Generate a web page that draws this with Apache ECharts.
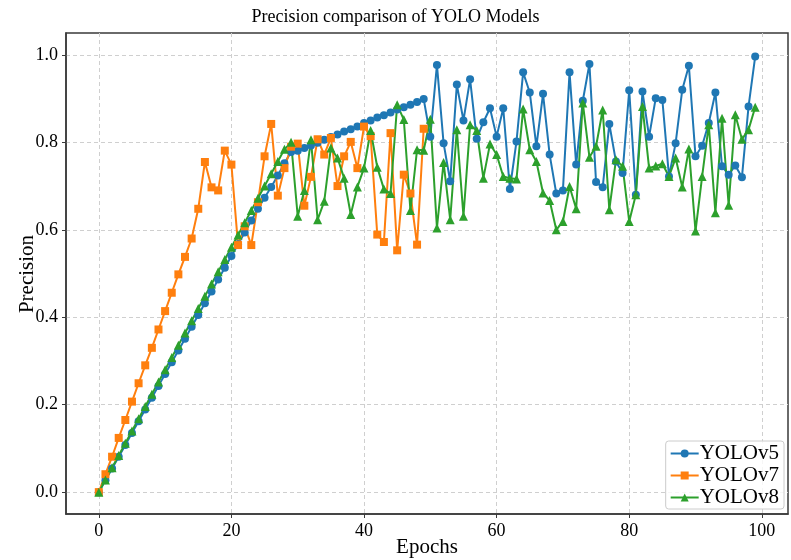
<!DOCTYPE html>
<html>
<head>
<meta charset="utf-8">
<script src="https://cdn.jsdelivr.net/npm/echarts@6/dist/echarts.min.js"></script>
<style>
  html, body { margin: 0; padding: 0; background: #fff; }
  #main { width: 791px; height: 560px; }
</style>
</head>
<body>
<div id="main"></div>
<script>
// values
const yolov5 = [
  0, 0.027, 0.054, 0.081, 0.108, 0.135, 0.162, 0.189, 0.216, 0.243,
  0.270, 0.297, 0.324, 0.351, 0.378, 0.405, 0.432, 0.459, 0.486, 0.513,
  0.540, 0.567, 0.594, 0.621, 0.648, 0.673, 0.698, 0.724, 0.752, 0.778,
  0.781, 0.787, 0.793, 0.799, 0.806, 0.812, 0.818, 0.825, 0.830, 0.836,
  0.844, 0.850, 0.857, 0.862, 0.868, 0.875, 0.880, 0.886, 0.892, 0.899,
  0.813, 0.977, 0.798, 0.711, 0.932, 0.850, 0.944, 0.808, 0.846, 0.878,
  0.813, 0.878, 0.693, 0.802, 0.960, 0.914, 0.791, 0.911, 0.772, 0.683,
  0.690, 0.960, 0.749, 0.895, 0.979, 0.709, 0.697, 0.842, 0.756, 0.730,
  0.919, 0.680, 0.916, 0.813, 0.901, 0.897, 0.722, 0.798, 0.920, 0.975,
  0.768, 0.792, 0.844, 0.914, 0.745, 0.726, 0.747, 0.720, 0.882, 0.996
]
const yolov7 = [
  0, 0.041, 0.081, 0.124, 0.165, 0.207, 0.249, 0.290, 0.330, 0.372,
  0.414, 0.456, 0.498, 0.538, 0.580, 0.648, 0.755, 0.697, 0.690, 0.781,
  0.749, 0.565, 0.608, 0.565, 0.663, 0.768, 0.842, 0.678, 0.741, 0.790,
  0.797, 0.655, 0.721, 0.807, 0.772, 0.810, 0.700, 0.768, 0.801, 0.741,
  0.836, 0.814, 0.589, 0.572, 0.821, 0.553, 0.726, 0.683, 0.566, 0.831
]
const yolov8 = [
  0, 0.028, 0.056, 0.084, 0.112, 0.140, 0.168, 0.196, 0.224, 0.252,
  0.280, 0.308, 0.336, 0.364, 0.392, 0.420, 0.448, 0.476, 0.504, 0.532,
  0.560, 0.588, 0.616, 0.644, 0.672, 0.700, 0.728, 0.756, 0.784, 0.800,
  0.631, 0.690, 0.806, 0.623, 0.665, 0.787, 0.764, 0.718, 0.635, 0.698,
  0.741, 0.827, 0.743, 0.693, 0.683, 0.886, 0.852, 0.644, 0.783, 0.782,
  0.853, 0.604, 0.754, 0.623, 0.829, 0.631, 0.840, 0.827, 0.718, 0.796,
  0.772, 0.722, 0.718, 0.716, 0.876, 0.783, 0.756, 0.684, 0.667, 0.600,
  0.619, 0.699, 0.648, 0.890, 0.766, 0.791, 0.874, 0.646, 0.760, 0.745,
  0.619, 0.680, 0.882, 0.741, 0.746, 0.751, 0.722, 0.764, 0.698, 0.785,
  0.597, 0.722, 0.840, 0.639, 0.855, 0.656, 0.863, 0.807, 0.829, 0.880
]
const xTicks = [0, 20, 40, 60, 80, 100]
const yTicks = [0, 0.2, 0.4, 0.6, 0.8, 1.0]

const font = 'Liberation Serif'
const frame = '#3a3a3a'

// [epoch, value] pairs
function pairs (arr) {
  return arr.map((v, i) => [i, v])
}

function lineSeries (name, data, color, symbol, size) {
  return {
    name: name,
    type: 'line',
    data: pairs(data),
    symbol: symbol,
    symbolSize: size,
    showSymbol: true,
    lineStyle: { color: color, width: 2 },
    itemStyle: { color: color },
    emphasis: { disabled: true },
    animation: false
  }
}

let myChart = echarts.init(document.getElementById('main'))

myChart.setOption({
  backgroundColor: '#fff',
  textStyle: { fontFamily: font },
  title: {
    text: 'Precision comparison of YOLO Models',
    left: 'center',
    top: 3,
    textStyle: { fontFamily: font, fontSize: 18, fontWeight: 'normal', color: '#000' }
  },
  // axis titles placed by hand
  graphic: [
    {
      type: 'text',
      x: 427,
      y: 547,
      style: { text: 'Epochs', font: '21px "Liberation Serif"', fill: '#000', align: 'center', verticalAlign: 'middle' }
    },
    {
      type: 'text',
      x: 27,
      y: 274,
      rotation: Math.PI / 2,
      style: { text: 'Precision', font: '21px "Liberation Serif"', fill: '#000', align: 'center', verticalAlign: 'middle' }
    }
  ],
  grid: {
    left: 66,
    right: 3,
    top: 33,
    bottom: 46,
    outerBoundsMode: 'none',
    containLabel: false,
    show: true,
    borderColor: frame,
    borderWidth: 1.5
  },
  legend: {
    orient: 'vertical',
    right: 7,
    bottom: 51,
    itemWidth: 28,
    itemHeight: 10,
    itemGap: 1,
    padding: [2, 5, 1, 4],
    borderColor: '#ccc',
    borderWidth: 1,
    borderRadius: 3,
    backgroundColor: 'rgba(255,255,255,0.8)',
    textStyle: { fontFamily: font, fontSize: 21, color: '#000', padding: [0, 0, 0, -4] },
    data: ['YOLOv5', 'YOLOv7', 'YOLOv8']
  },
  xAxis: {
    type: 'value',
    min: -4.95,
    max: 103.95,
    axisLine: { show: true, onZero: false, lineStyle: { color: frame, width: 1.5 } },
    axisTick: { show: true, length: 4, customValues: xTicks, lineStyle: { color: frame } },
    axisLabel: { customValues: xTicks, fontFamily: font, fontSize: 18, color: '#000', margin: 8 },
    splitLine: { show: true, lineStyle: { type: [4, 3], color: '#cfcfcf', width: 1 } }
  },
  yAxis: {
    type: 'value',
    min: -0.05,
    max: 1.05,
    axisLine: { show: true, onZero: false, lineStyle: { color: frame, width: 1.5 } },
    axisTick: { show: true, length: 4, customValues: yTicks, lineStyle: { color: frame } },
    axisLabel: {
      customValues: yTicks,
      fontFamily: font,
      fontSize: 18,
      color: '#000',
      margin: 8,
      formatter: v => v.toFixed(1)
    },
    splitLine: { show: true, lineStyle: { type: [4, 3], color: '#cfcfcf', width: 1 } }
  },
  series: [
    lineSeries('YOLOv5', yolov5, '#1f77b4', 'circle', 8),
    lineSeries('YOLOv7', yolov7, '#ff7f0e', 'rect', 8),
    lineSeries('YOLOv8', yolov8, '#2ca02c', 'triangle', 9)
  ]
})
</script>
</body>
</html>
